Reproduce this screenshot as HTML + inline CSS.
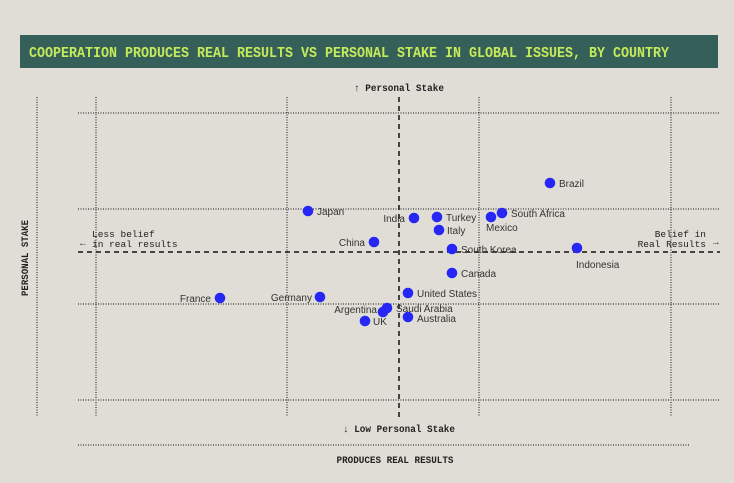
<!DOCTYPE html>
<html><head><meta charset="utf-8"><style>
html,body{margin:0;padding:0;background:#dfddd6;}
svg{display:block;}
.m{font-family:"Liberation Mono",monospace;fill:#222;}
.s{font-family:"Liberation Sans",sans-serif;font-size:10px;fill:#333;}
</style></head><body>
<svg width="734" height="483" viewBox="0 0 734 483" xmlns="http://www.w3.org/2000/svg">
<rect width="734" height="483" fill="#dfddd6"/>
<rect x="20" y="35" width="698" height="33" fill="#356059"/>
<text x="29" y="57" class="m" style="font-size:15px;font-weight:bold;fill:#c5ea5a" textLength="640" lengthAdjust="spacingAndGlyphs">COOPERATION PRODUCES REAL RESULTS VS PERSONAL STAKE IN GLOBAL ISSUES, BY COUNTRY</text>
<text x="399" y="91" class="m" text-anchor="middle" style="font-size:10px;font-weight:bold" textLength="90" lengthAdjust="spacingAndGlyphs">↑ Personal Stake</text>
<g stroke="#111" stroke-width="1" stroke-dasharray="1,1.5" fill="none">
<line x1="37" y1="97" x2="37" y2="417"/>
<line x1="96" y1="97" x2="96" y2="417"/>
<line x1="287" y1="97" x2="287" y2="417"/>
<line x1="479" y1="97" x2="479" y2="417"/>
<line x1="671" y1="97" x2="671" y2="417"/>
<line x1="78" y1="113" x2="720" y2="113"/>
<line x1="78" y1="209" x2="720" y2="209"/>
<line x1="78" y1="304" x2="720" y2="304"/>
<line x1="78" y1="400" x2="720" y2="400"/>
<line x1="78" y1="445" x2="689" y2="445"/>
</g>
<g stroke="#111" stroke-width="1.5" stroke-dasharray="5,4" fill="none">
<line x1="399" y1="97" x2="399" y2="417"/>
<line x1="78" y1="252" x2="720" y2="252"/>
</g>
<text x="80" y="246" class="m" style="font-size:9.5px">←</text>
<text x="92" y="237" class="m" style="font-size:9.5px">Less belief</text>
<text x="92" y="247" class="m" style="font-size:9.5px">in real results</text>
<text x="706" y="237" class="m" text-anchor="end" style="font-size:9.5px">Belief in</text>
<text x="706" y="247" class="m" text-anchor="end" style="font-size:9.5px">Real Results</text>
<text x="713" y="245" class="m" style="font-size:9.5px">→</text>
<text x="399" y="432" class="m" text-anchor="middle" style="font-size:10px;font-weight:bold" textLength="112" lengthAdjust="spacingAndGlyphs">↓ Low Personal Stake</text>
<text x="395" y="463" class="m" text-anchor="middle" style="font-size:10px;font-weight:bold" textLength="117" lengthAdjust="spacingAndGlyphs">PRODUCES REAL RESULTS</text>
<text transform="translate(28,258) rotate(-90)" class="m" text-anchor="middle" style="font-size:10px;font-weight:bold" textLength="76" lengthAdjust="spacingAndGlyphs">PERSONAL STAKE</text>
<g fill="#2626f5">
<circle cx="550" cy="183" r="5.3"/><circle cx="308" cy="211" r="5.3"/>
<circle cx="414" cy="218" r="5.3"/><circle cx="437" cy="217" r="5.3"/>
<circle cx="502" cy="213" r="5.3"/><circle cx="491" cy="217" r="5.3"/>
<circle cx="439" cy="230" r="5.3"/><circle cx="374" cy="242" r="5.3"/>
<circle cx="452" cy="249" r="5.3"/><circle cx="577" cy="248" r="5.3"/>
<circle cx="452" cy="273" r="5.3"/><circle cx="408" cy="293" r="5.3"/>
<circle cx="220" cy="298" r="5.3"/><circle cx="320" cy="297" r="5.3"/>
<circle cx="387" cy="308" r="5.3"/><circle cx="383" cy="312" r="5.3"/>
<circle cx="408" cy="317" r="5.3"/><circle cx="365" cy="321" r="5.3"/>
</g>
<text x="559" y="187" class="s">Brazil</text>
<text x="317" y="215" class="s">Japan</text>
<text x="405" y="222" class="s" text-anchor="end">India</text>
<text x="446" y="221" class="s">Turkey</text>
<text x="511" y="217" class="s">South Africa</text>
<text x="486" y="231" class="s">Mexico</text>
<text x="447" y="234" class="s">Italy</text>
<text x="365" y="246" class="s" text-anchor="end">China</text>
<text x="461" y="253" class="s">South Korea</text>
<text x="576" y="268" class="s">Indonesia</text>
<text x="461" y="277" class="s">Canada</text>
<text x="417" y="297" class="s">United States</text>
<text x="211" y="302" class="s" text-anchor="end">France</text>
<text x="312" y="301" class="s" text-anchor="end">Germany</text>
<text x="396" y="312" class="s">Saudi Arabia</text>
<text x="377" y="313" class="s" text-anchor="end">Argentina</text>
<text x="417" y="322" class="s">Australia</text>
<text x="373" y="325" class="s">UK</text>
</svg>
</body></html>
